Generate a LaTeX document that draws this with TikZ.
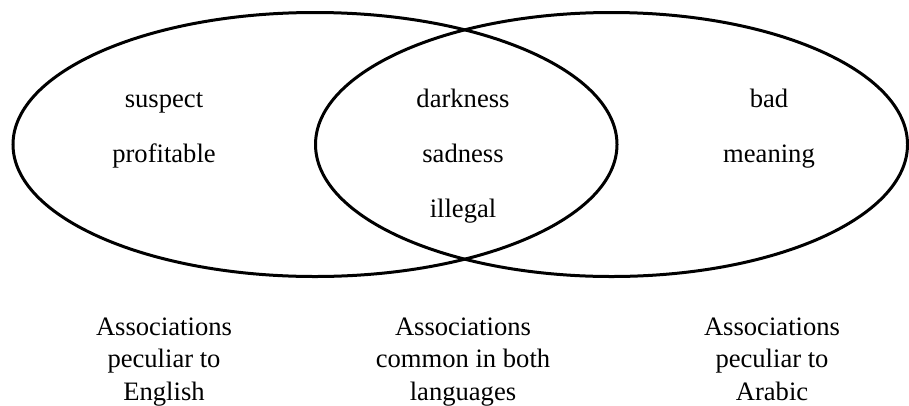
\documentclass[tikz,border=0pt]{standalone}
\usepackage{fontspec}
\setmainfont{Liberation Serif}
\begin{document}
\begin{tikzpicture}[x=1pt,y=-1pt,
  ring/.style={line width=3pt},
  word/.style={anchor=base,inner sep=0pt,font=\fontsize{26.6pt}{32.5pt}\selectfont},
  caption/.style={anchor=base,inner sep=0pt,align=center,font=\fontsize{26.6pt}{32.5pt}\selectfont}]
\useasboundingbox (0,0) rectangle (909,405);
\draw[ring] (315,144.5) ellipse [x radius=302, y radius=132];
\draw[ring] (611.5,144.5) ellipse [x radius=296, y radius=132];
\node[word] (w1) at (164,107) {suspect};
\node[word] (w2) at (164,162) {profitable};
\node[word] (w3) at (463,107) {darkness};
\node[word] (w4) at (463,162) {sadness};
\node[word] (w5) at (463,217) {illegal};
\node[word] (w6) at (769,107) {bad};
\node[word] (w7) at (769,162) {meaning};
\node[caption] (c1) at (164,400) {Associations\\peculiar to\\English};
\node[caption] (c2) at (463,400) {Associations\\common in both\\languages};
\node[caption] (c3) at (772,400) {Associations\\peculiar to\\Arabic};
\end{tikzpicture}
\end{document}
